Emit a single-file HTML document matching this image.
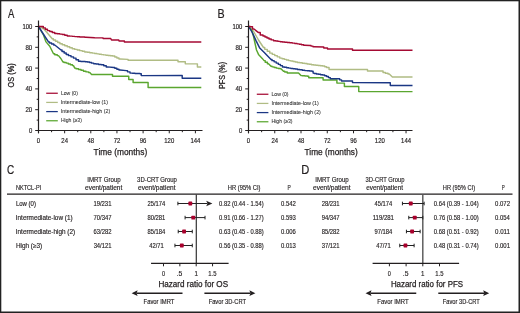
<!DOCTYPE html>
<html><head><meta charset="utf-8"><style>
html,body{margin:0;padding:0;background:#fff;}
#w{position:relative;width:520px;height:313px;overflow:hidden;background:#fff;}
svg{position:absolute;left:0;top:0;}
text{font-family:"Liberation Sans",sans-serif;}
</style></head><body><div id="w" style="will-change:transform">
<svg width="520" height="313" viewBox="0 0 520 313">
<rect x="0" y="0" width="520" height="313" fill="#fff"/>
<text x="7.98" y="17.80" font-size="12" text-anchor="start" textLength="6.34" lengthAdjust="spacingAndGlyphs" fill="#231f20" stroke="#231f20" stroke-width="0.2">A</text>
<polyline points="38.50,26.50 39.75,26.50 39.75,27.50 42.25,27.50 42.25,28.50 43.50,28.50 52.25,38.75 53.34,38.75 53.34,40.00 55.53,40.00 55.53,41.25 57.72,41.25 57.72,42.50 59.91,42.50 59.91,43.75 61.00,43.75 62.25,43.75 62.25,44.75 64.75,44.75 64.75,45.75 67.25,45.75 67.25,46.75 69.75,46.75 69.75,47.75 72.25,47.75 72.25,48.75 73.50,48.75 74.75,48.75 74.75,49.38 77.25,49.38 77.25,50.01 79.75,50.01 79.75,50.64 82.25,50.64 82.25,51.27 84.75,51.27 84.75,51.90 86.00,51.90 87.25,51.90 87.25,52.30 89.75,52.30 89.75,52.70 92.25,52.70 92.25,53.10 93.50,53.10 94.62,53.10 94.62,53.48 96.88,53.48 96.88,53.85 99.12,53.85 99.12,54.23 101.38,54.23 101.38,54.60 102.50,54.60 103.62,54.60 103.62,54.88 105.88,54.88 105.88,55.16 108.12,55.16 108.12,55.44 110.38,55.44 110.38,55.72 112.62,55.72 112.62,56.00 113.75,56.00 114.79,56.00 114.79,57.00 116.88,57.00 116.88,58.00 118.96,58.00 118.96,59.00 120.00,59.00 128.10,59.40 128.10,60.25 178.00,60.30 178.00,61.80 185.30,61.80 185.30,63.85 197.40,63.85 197.40,67.00 201.30,67.00" fill="none" stroke="#b0bc84" stroke-width="1.45" stroke-linejoin="round"/>
<polyline points="38.50,26.50 43.50,35.00 46.00,41.90 49.75,46.25 53.50,53.75 54.75,53.75 54.75,54.67 57.25,54.67 57.25,55.60 58.50,55.60 61.00,58.75 62.90,61.90 63.99,61.90 63.99,62.50 66.16,62.50 66.16,63.10 67.25,63.10 68.29,63.10 68.29,63.93 70.38,63.93 70.38,64.77 72.46,64.77 72.46,65.60 73.50,65.60 74.75,68.10 76.00,68.10 76.00,68.75 78.50,68.75 78.50,69.40 79.75,69.40 81.00,69.40 81.00,70.33 83.50,70.33 83.50,71.25 84.75,71.25 86.00,71.25 86.00,71.88 88.50,71.88 88.50,72.50 89.75,72.50 91.60,74.40 112.50,74.40 112.50,76.25 128.75,76.25 128.75,79.40 133.10,79.40 133.10,82.50 148.10,82.50 148.10,87.50 201.30,87.50" fill="none" stroke="#5aa62f" stroke-width="1.45" stroke-linejoin="round"/>
<polyline points="38.50,26.50 44.75,36.25 48.50,41.90 49.54,41.90 49.54,42.93 51.62,42.93 51.62,43.97 53.71,43.97 53.71,45.00 54.75,45.00 61.00,50.00 62.04,50.00 62.04,51.47 64.12,51.47 64.12,52.93 66.21,52.93 66.21,54.40 67.25,54.40 68.50,54.40 68.50,55.63 71.00,55.63 71.00,56.87 73.50,56.87 73.50,58.10 74.75,58.10 76.00,58.10 76.00,59.67 78.50,59.67 78.50,61.25 79.75,61.25 80.84,61.25 80.84,61.41 83.03,61.41 83.03,61.58 85.22,61.58 85.22,61.74 87.41,61.74 87.41,61.90 88.50,61.90 89.54,61.90 89.54,62.52 91.62,62.52 91.62,63.13 93.71,63.13 93.71,63.75 94.75,63.75 96.04,63.75 96.04,64.08 98.62,64.08 98.62,64.42 101.21,64.42 101.21,64.75 102.50,64.75 103.75,64.75 103.75,65.83 106.25,65.83 106.25,66.90 107.50,66.90 113.75,67.50 114.79,67.50 114.79,68.33 116.88,68.33 116.88,69.17 118.96,69.17 118.96,70.00 120.00,70.00 126.25,70.60 127.50,70.60 127.50,71.85 130.00,71.85 130.00,73.10 131.25,73.10 132.50,73.10 132.50,73.26 135.00,73.26 135.00,73.42 137.50,73.42 137.50,73.59 140.00,73.59 140.00,73.75 141.25,73.75 141.25,75.60 182.20,75.50 182.20,78.20 201.30,78.20" fill="none" stroke="#1b3784" stroke-width="1.45" stroke-linejoin="round"/>
<polyline points="38.50,26.50 42.25,26.50 43.29,26.50 43.29,27.87 45.38,27.87 45.38,29.23 47.46,29.23 47.46,30.60 48.50,30.60 49.75,30.60 49.75,31.57 52.25,31.57 52.25,32.53 54.75,32.53 54.75,33.50 56.00,33.50 57.25,33.50 57.25,33.80 59.75,33.80 59.75,34.10 62.25,34.10 62.25,34.40 63.50,34.40 64.75,34.40 64.75,35.15 67.25,35.15 67.25,35.90 68.50,35.90 69.75,35.90 69.75,36.13 72.25,36.13 72.25,36.37 74.75,36.37 74.75,36.60 76.00,36.60 77.25,36.60 77.25,36.75 79.75,36.75 79.75,36.90 82.25,36.90 82.25,37.05 84.75,37.05 84.75,37.20 86.00,37.20 94.75,37.80 103.10,37.90 103.10,38.50 110.60,38.40 111.50,40.00 118.75,40.00 119.00,40.90 124.40,40.90 124.40,41.90 201.30,41.90" fill="none" stroke="#a50a33" stroke-width="1.45" stroke-linejoin="round"/>
<line x1="38.50" y1="20.50" x2="38.50" y2="133.20" stroke="#231f20" stroke-width="1.2"/>
<line x1="35.20" y1="130.50" x2="202.50" y2="130.50" stroke="#231f20" stroke-width="1.2"/>
<text x="32.20" y="132.95" font-size="6.9" text-anchor="end" textLength="3.30" lengthAdjust="spacingAndGlyphs" fill="#231f20" stroke="#231f20" stroke-width="0.18">0</text>
<line x1="36.70" y1="120.10" x2="38.50" y2="120.10" stroke="#231f20" stroke-width="1.0"/>
<line x1="35.20" y1="109.70" x2="38.50" y2="109.70" stroke="#231f20" stroke-width="1.0"/>
<text x="32.20" y="112.15" font-size="6.9" text-anchor="end" textLength="6.80" lengthAdjust="spacingAndGlyphs" fill="#231f20" stroke="#231f20" stroke-width="0.18">20</text>
<line x1="36.70" y1="99.30" x2="38.50" y2="99.30" stroke="#231f20" stroke-width="1.0"/>
<line x1="35.20" y1="88.90" x2="38.50" y2="88.90" stroke="#231f20" stroke-width="1.0"/>
<text x="32.20" y="91.35" font-size="6.9" text-anchor="end" textLength="6.80" lengthAdjust="spacingAndGlyphs" fill="#231f20" stroke="#231f20" stroke-width="0.18">40</text>
<line x1="36.70" y1="78.50" x2="38.50" y2="78.50" stroke="#231f20" stroke-width="1.0"/>
<line x1="35.20" y1="68.10" x2="38.50" y2="68.10" stroke="#231f20" stroke-width="1.0"/>
<text x="32.20" y="70.55" font-size="6.9" text-anchor="end" textLength="6.80" lengthAdjust="spacingAndGlyphs" fill="#231f20" stroke="#231f20" stroke-width="0.18">60</text>
<line x1="36.70" y1="57.70" x2="38.50" y2="57.70" stroke="#231f20" stroke-width="1.0"/>
<line x1="35.20" y1="47.30" x2="38.50" y2="47.30" stroke="#231f20" stroke-width="1.0"/>
<text x="32.20" y="49.75" font-size="6.9" text-anchor="end" textLength="6.80" lengthAdjust="spacingAndGlyphs" fill="#231f20" stroke="#231f20" stroke-width="0.18">80</text>
<line x1="36.70" y1="36.90" x2="38.50" y2="36.90" stroke="#231f20" stroke-width="1.0"/>
<line x1="35.20" y1="26.50" x2="38.50" y2="26.50" stroke="#231f20" stroke-width="1.0"/>
<text x="32.20" y="28.95" font-size="6.9" text-anchor="end" textLength="9.80" lengthAdjust="spacingAndGlyphs" fill="#231f20" stroke="#231f20" stroke-width="0.18">100</text>
<line x1="38.50" y1="130.50" x2="38.50" y2="133.30" stroke="#231f20" stroke-width="1.0"/>
<text x="38.50" y="142.60" font-size="6.9" text-anchor="middle" textLength="3.30" lengthAdjust="spacingAndGlyphs" fill="#231f20" stroke="#231f20" stroke-width="0.18">0</text>
<line x1="51.58" y1="130.50" x2="51.58" y2="132.20" stroke="#231f20" stroke-width="1.0"/>
<line x1="64.65" y1="130.50" x2="64.65" y2="133.30" stroke="#231f20" stroke-width="1.0"/>
<text x="64.65" y="142.60" font-size="6.9" text-anchor="middle" textLength="6.60" lengthAdjust="spacingAndGlyphs" fill="#231f20" stroke="#231f20" stroke-width="0.18">24</text>
<line x1="77.73" y1="130.50" x2="77.73" y2="132.20" stroke="#231f20" stroke-width="1.0"/>
<line x1="90.80" y1="130.50" x2="90.80" y2="133.30" stroke="#231f20" stroke-width="1.0"/>
<text x="90.80" y="142.60" font-size="6.9" text-anchor="middle" textLength="6.60" lengthAdjust="spacingAndGlyphs" fill="#231f20" stroke="#231f20" stroke-width="0.18">48</text>
<line x1="103.88" y1="130.50" x2="103.88" y2="132.20" stroke="#231f20" stroke-width="1.0"/>
<line x1="116.95" y1="130.50" x2="116.95" y2="133.30" stroke="#231f20" stroke-width="1.0"/>
<text x="116.95" y="142.60" font-size="6.9" text-anchor="middle" textLength="6.60" lengthAdjust="spacingAndGlyphs" fill="#231f20" stroke="#231f20" stroke-width="0.18">72</text>
<line x1="130.03" y1="130.50" x2="130.03" y2="132.20" stroke="#231f20" stroke-width="1.0"/>
<line x1="143.10" y1="130.50" x2="143.10" y2="133.30" stroke="#231f20" stroke-width="1.0"/>
<text x="143.10" y="142.60" font-size="6.9" text-anchor="middle" textLength="6.60" lengthAdjust="spacingAndGlyphs" fill="#231f20" stroke="#231f20" stroke-width="0.18">96</text>
<line x1="156.18" y1="130.50" x2="156.18" y2="132.20" stroke="#231f20" stroke-width="1.0"/>
<line x1="169.25" y1="130.50" x2="169.25" y2="133.30" stroke="#231f20" stroke-width="1.0"/>
<text x="169.25" y="142.60" font-size="6.9" text-anchor="middle" textLength="9.90" lengthAdjust="spacingAndGlyphs" fill="#231f20" stroke="#231f20" stroke-width="0.18">120</text>
<line x1="182.33" y1="130.50" x2="182.33" y2="132.20" stroke="#231f20" stroke-width="1.0"/>
<line x1="195.40" y1="130.50" x2="195.40" y2="133.30" stroke="#231f20" stroke-width="1.0"/>
<text x="195.40" y="142.60" font-size="6.9" text-anchor="middle" textLength="9.90" lengthAdjust="spacingAndGlyphs" fill="#231f20" stroke="#231f20" stroke-width="0.18">144</text>
<text x="93.61" y="154.60" font-size="8.6" text-anchor="start" textLength="53.60" lengthAdjust="spacingAndGlyphs" fill="#231f20" stroke="#231f20" stroke-width="0.25">Time (months)</text>
<text x="0" y="0" font-size="8.2" text-anchor="middle" textLength="24" lengthAdjust="spacingAndGlyphs" fill="#231f20" stroke="#231f20" stroke-width="0.3" transform="translate(14.2,75.4) rotate(-90)">OS (%)</text>
<line x1="46.20" y1="93.25" x2="57.80" y2="93.25" stroke="#a50a33" stroke-width="1.25"/>
<text x="60.88" y="94.90" font-size="5.2" text-anchor="start" textLength="17.04" lengthAdjust="spacingAndGlyphs" fill="#333" stroke="#333" stroke-width="0.08">Low (0)</text>
<line x1="46.20" y1="102.42" x2="57.80" y2="102.42" stroke="#b0bc84" stroke-width="1.25"/>
<text x="60.81" y="104.07" font-size="5.2" text-anchor="start" textLength="47.32" lengthAdjust="spacingAndGlyphs" fill="#333" stroke="#333" stroke-width="0.08">Intermediate-low (1)</text>
<line x1="46.20" y1="111.59" x2="57.80" y2="111.59" stroke="#1b3784" stroke-width="1.25"/>
<text x="60.81" y="113.24" font-size="5.2" text-anchor="start" textLength="49.47" lengthAdjust="spacingAndGlyphs" fill="#333" stroke="#333" stroke-width="0.08">Intermediate-high (2)</text>
<line x1="46.20" y1="120.76" x2="57.80" y2="120.76" stroke="#5aa62f" stroke-width="1.25"/>
<text x="60.88" y="122.41" font-size="5.2" text-anchor="start" textLength="21.04" lengthAdjust="spacingAndGlyphs" fill="#333" stroke="#333" stroke-width="0.08">High (≥3)</text>
<text x="217.52" y="17.80" font-size="12" text-anchor="start" textLength="7.14" lengthAdjust="spacingAndGlyphs" fill="#231f20" stroke="#231f20" stroke-width="0.2">B</text>
<polyline points="248.50,26.25 253.50,31.25 258.50,40.00 263.50,47.50 264.75,47.50 264.75,49.37 267.25,49.37 267.25,51.23 269.75,51.23 269.75,53.10 271.00,53.10 272.25,53.10 272.25,54.35 274.75,54.35 274.75,55.60 277.25,55.60 277.25,56.85 279.75,56.85 279.75,58.10 281.00,58.10 282.09,58.10 282.09,58.73 284.28,58.73 284.28,59.35 286.47,59.35 286.47,59.98 288.66,59.98 288.66,60.60 289.75,60.60 290.84,60.60 290.84,61.08 293.03,61.08 293.03,61.55 295.22,61.55 295.22,62.02 297.41,62.02 297.41,62.50 298.50,62.50 299.75,62.50 299.75,62.83 302.25,62.83 302.25,63.17 304.75,63.17 304.75,63.50 306.00,63.50 307.08,63.50 307.08,63.92 309.25,63.92 309.25,64.33 311.42,64.33 311.42,64.75 312.50,64.75 313.62,64.75 313.62,65.00 315.88,65.00 315.88,65.25 318.12,65.25 318.12,65.50 320.38,65.50 320.38,65.75 322.62,65.75 322.62,66.00 323.75,66.00 324.69,66.00 324.69,66.75 326.56,66.75 326.56,67.50 327.50,67.50 329.05,67.50 329.05,69.40 330.60,69.40 367.50,69.50 367.50,70.90 382.00,70.90 383.05,70.90 383.05,72.40 384.10,72.40 385.40,72.40 385.40,73.20 388.00,73.20 388.00,74.00 389.30,74.00 392.40,77.00 412.50,77.00" fill="none" stroke="#b0bc84" stroke-width="1.45" stroke-linejoin="round"/>
<polyline points="248.50,26.25 251.60,30.00 253.50,36.25 255.40,45.00 256.50,50.00 258.50,54.40 262.25,58.40 264.10,60.60 265.20,60.60 265.20,62.17 267.40,62.17 267.40,63.75 268.50,63.75 271.00,66.25 272.04,66.25 272.04,66.87 274.12,66.87 274.12,67.48 276.21,67.48 276.21,68.10 277.25,68.10 278.19,68.10 278.19,68.42 280.06,68.42 280.06,68.75 281.00,68.75 283.50,71.25 284.75,71.25 284.75,72.08 287.25,72.08 287.25,72.90 288.50,72.90 298.50,72.90 301.00,75.60 302.29,75.60 302.29,75.82 304.88,75.82 304.88,76.03 307.46,76.03 307.46,76.25 308.75,76.25 308.75,77.75 323.10,77.75 323.10,80.00 336.90,80.00 336.90,83.10 344.40,83.10 344.40,86.50 358.75,86.50 358.75,91.60 412.50,91.60" fill="none" stroke="#5aa62f" stroke-width="1.45" stroke-linejoin="round"/>
<polyline points="248.50,26.25 252.25,32.50 256.00,40.60 259.75,48.10 264.75,53.10 271.00,59.40 272.04,59.40 272.04,60.63 274.12,60.63 274.12,61.87 276.21,61.87 276.21,63.10 277.25,63.10 278.29,63.10 278.29,64.37 280.38,64.37 280.38,65.63 282.46,65.63 282.46,66.90 283.50,66.90 284.54,66.90 284.54,67.30 286.62,67.30 286.62,67.70 288.71,67.70 288.71,68.10 289.75,68.10 290.84,68.10 290.84,68.42 293.03,68.42 293.03,68.75 295.22,68.75 295.22,69.08 297.41,69.08 297.41,69.40 298.50,69.40 299.75,69.40 299.75,69.80 302.25,69.80 302.25,70.20 304.75,70.20 304.75,70.60 306.00,70.60 307.18,70.60 307.18,70.82 309.55,70.82 309.55,71.03 311.92,71.03 311.92,71.25 313.10,71.25 313.10,73.10 314.20,73.10 314.20,73.55 316.40,73.55 316.40,74.00 317.50,74.00 318.54,74.00 318.54,74.33 320.62,74.33 320.62,74.67 322.71,74.67 322.71,75.00 323.75,75.00 324.69,75.00 324.69,75.75 326.56,75.75 326.56,76.50 327.50,76.50 328.44,76.50 328.44,77.62 330.31,77.62 330.31,78.75 331.25,78.75 338.75,78.75 339.69,78.75 339.69,79.88 341.56,79.88 341.56,81.00 342.50,81.00 352.50,81.00 352.50,82.50 390.30,82.80 390.30,85.50 412.50,85.50" fill="none" stroke="#1b3784" stroke-width="1.45" stroke-linejoin="round"/>
<polyline points="248.50,26.25 251.00,26.80 252.50,26.80 252.50,29.00 254.00,29.00 258.50,32.60 260.25,32.60 260.25,35.00 262.00,35.00 263.00,35.00 263.00,36.00 265.00,36.00 265.00,37.00 266.00,37.00 267.00,37.00 267.00,38.00 269.00,38.00 269.00,39.00 270.00,39.00 271.19,39.00 271.19,39.88 273.56,39.88 273.56,40.75 274.75,40.75 275.84,40.75 275.84,41.06 278.03,41.06 278.03,41.38 280.22,41.38 280.22,41.69 282.41,41.69 282.41,42.00 283.50,42.00 284.75,42.00 284.75,42.28 287.25,42.28 287.25,42.56 289.75,42.56 289.75,42.84 292.25,42.84 292.25,43.12 294.75,43.12 294.75,43.40 296.00,43.40 297.09,43.40 297.09,43.85 299.28,43.85 299.28,44.30 301.47,44.30 301.47,44.75 303.66,44.75 303.66,45.20 304.75,45.20 310.00,45.50 311.00,45.50 311.00,46.10 313.00,46.10 313.00,46.70 314.00,46.70 323.75,47.00 323.75,47.90 327.50,47.90 327.50,48.90 352.50,48.90 352.50,50.20 412.50,50.20" fill="none" stroke="#a50a33" stroke-width="1.45" stroke-linejoin="round"/>
<line x1="248.50" y1="20.50" x2="248.50" y2="133.20" stroke="#231f20" stroke-width="1.2"/>
<line x1="245.20" y1="130.50" x2="412.50" y2="130.50" stroke="#231f20" stroke-width="1.2"/>
<text x="242.20" y="132.95" font-size="6.9" text-anchor="end" textLength="3.30" lengthAdjust="spacingAndGlyphs" fill="#231f20" stroke="#231f20" stroke-width="0.18">0</text>
<line x1="246.70" y1="120.10" x2="248.50" y2="120.10" stroke="#231f20" stroke-width="1.0"/>
<line x1="245.20" y1="109.70" x2="248.50" y2="109.70" stroke="#231f20" stroke-width="1.0"/>
<text x="242.20" y="112.15" font-size="6.9" text-anchor="end" textLength="6.80" lengthAdjust="spacingAndGlyphs" fill="#231f20" stroke="#231f20" stroke-width="0.18">20</text>
<line x1="246.70" y1="99.30" x2="248.50" y2="99.30" stroke="#231f20" stroke-width="1.0"/>
<line x1="245.20" y1="88.90" x2="248.50" y2="88.90" stroke="#231f20" stroke-width="1.0"/>
<text x="242.20" y="91.35" font-size="6.9" text-anchor="end" textLength="6.80" lengthAdjust="spacingAndGlyphs" fill="#231f20" stroke="#231f20" stroke-width="0.18">40</text>
<line x1="246.70" y1="78.50" x2="248.50" y2="78.50" stroke="#231f20" stroke-width="1.0"/>
<line x1="245.20" y1="68.10" x2="248.50" y2="68.10" stroke="#231f20" stroke-width="1.0"/>
<text x="242.20" y="70.55" font-size="6.9" text-anchor="end" textLength="6.80" lengthAdjust="spacingAndGlyphs" fill="#231f20" stroke="#231f20" stroke-width="0.18">60</text>
<line x1="246.70" y1="57.70" x2="248.50" y2="57.70" stroke="#231f20" stroke-width="1.0"/>
<line x1="245.20" y1="47.30" x2="248.50" y2="47.30" stroke="#231f20" stroke-width="1.0"/>
<text x="242.20" y="49.75" font-size="6.9" text-anchor="end" textLength="6.80" lengthAdjust="spacingAndGlyphs" fill="#231f20" stroke="#231f20" stroke-width="0.18">80</text>
<line x1="246.70" y1="36.90" x2="248.50" y2="36.90" stroke="#231f20" stroke-width="1.0"/>
<line x1="245.20" y1="26.50" x2="248.50" y2="26.50" stroke="#231f20" stroke-width="1.0"/>
<text x="242.20" y="28.95" font-size="6.9" text-anchor="end" textLength="9.80" lengthAdjust="spacingAndGlyphs" fill="#231f20" stroke="#231f20" stroke-width="0.18">100</text>
<line x1="248.50" y1="130.50" x2="248.50" y2="133.30" stroke="#231f20" stroke-width="1.0"/>
<text x="248.50" y="142.60" font-size="6.9" text-anchor="middle" textLength="3.30" lengthAdjust="spacingAndGlyphs" fill="#231f20" stroke="#231f20" stroke-width="0.18">0</text>
<line x1="261.63" y1="130.50" x2="261.63" y2="132.20" stroke="#231f20" stroke-width="1.0"/>
<line x1="274.76" y1="130.50" x2="274.76" y2="133.30" stroke="#231f20" stroke-width="1.0"/>
<text x="274.76" y="142.60" font-size="6.9" text-anchor="middle" textLength="6.60" lengthAdjust="spacingAndGlyphs" fill="#231f20" stroke="#231f20" stroke-width="0.18">24</text>
<line x1="287.88" y1="130.50" x2="287.88" y2="132.20" stroke="#231f20" stroke-width="1.0"/>
<line x1="301.01" y1="130.50" x2="301.01" y2="133.30" stroke="#231f20" stroke-width="1.0"/>
<text x="301.01" y="142.60" font-size="6.9" text-anchor="middle" textLength="6.60" lengthAdjust="spacingAndGlyphs" fill="#231f20" stroke="#231f20" stroke-width="0.18">48</text>
<line x1="314.14" y1="130.50" x2="314.14" y2="132.20" stroke="#231f20" stroke-width="1.0"/>
<line x1="327.27" y1="130.50" x2="327.27" y2="133.30" stroke="#231f20" stroke-width="1.0"/>
<text x="327.27" y="142.60" font-size="6.9" text-anchor="middle" textLength="6.60" lengthAdjust="spacingAndGlyphs" fill="#231f20" stroke="#231f20" stroke-width="0.18">72</text>
<line x1="340.40" y1="130.50" x2="340.40" y2="132.20" stroke="#231f20" stroke-width="1.0"/>
<line x1="353.52" y1="130.50" x2="353.52" y2="133.30" stroke="#231f20" stroke-width="1.0"/>
<text x="353.52" y="142.60" font-size="6.9" text-anchor="middle" textLength="6.60" lengthAdjust="spacingAndGlyphs" fill="#231f20" stroke="#231f20" stroke-width="0.18">96</text>
<line x1="366.65" y1="130.50" x2="366.65" y2="132.20" stroke="#231f20" stroke-width="1.0"/>
<line x1="379.78" y1="130.50" x2="379.78" y2="133.30" stroke="#231f20" stroke-width="1.0"/>
<text x="379.78" y="142.60" font-size="6.9" text-anchor="middle" textLength="9.90" lengthAdjust="spacingAndGlyphs" fill="#231f20" stroke="#231f20" stroke-width="0.18">120</text>
<line x1="392.91" y1="130.50" x2="392.91" y2="132.20" stroke="#231f20" stroke-width="1.0"/>
<line x1="406.04" y1="130.50" x2="406.04" y2="133.30" stroke="#231f20" stroke-width="1.0"/>
<text x="406.04" y="142.60" font-size="6.9" text-anchor="middle" textLength="9.90" lengthAdjust="spacingAndGlyphs" fill="#231f20" stroke="#231f20" stroke-width="0.18">144</text>
<text x="304.61" y="154.60" font-size="8.6" text-anchor="start" textLength="53.10" lengthAdjust="spacingAndGlyphs" fill="#231f20" stroke="#231f20" stroke-width="0.25">Time (months)</text>
<text x="0" y="0" font-size="8.2" text-anchor="middle" textLength="27" lengthAdjust="spacingAndGlyphs" fill="#231f20" stroke="#231f20" stroke-width="0.3" transform="translate(224.8,75.4) rotate(-90)">PFS (%)</text>
<line x1="256.80" y1="94.25" x2="268.40" y2="94.25" stroke="#a50a33" stroke-width="1.25"/>
<text x="271.48" y="95.90" font-size="5.2" text-anchor="start" textLength="17.04" lengthAdjust="spacingAndGlyphs" fill="#333" stroke="#333" stroke-width="0.08">Low (0)</text>
<line x1="256.80" y1="103.42" x2="268.40" y2="103.42" stroke="#b0bc84" stroke-width="1.25"/>
<text x="271.41" y="105.07" font-size="5.2" text-anchor="start" textLength="47.32" lengthAdjust="spacingAndGlyphs" fill="#333" stroke="#333" stroke-width="0.08">Intermediate-low (1)</text>
<line x1="256.80" y1="112.59" x2="268.40" y2="112.59" stroke="#1b3784" stroke-width="1.25"/>
<text x="271.41" y="114.24" font-size="5.2" text-anchor="start" textLength="49.47" lengthAdjust="spacingAndGlyphs" fill="#333" stroke="#333" stroke-width="0.08">Intermediate-high (2)</text>
<line x1="256.80" y1="121.76" x2="268.40" y2="121.76" stroke="#5aa62f" stroke-width="1.25"/>
<text x="271.48" y="123.41" font-size="5.2" text-anchor="start" textLength="21.04" lengthAdjust="spacingAndGlyphs" fill="#333" stroke="#333" stroke-width="0.08">High (≥3)</text>
<text x="7.09" y="173.70" font-size="12" text-anchor="start" textLength="7.18" lengthAdjust="spacingAndGlyphs" fill="#231f20" stroke="#231f20" stroke-width="0.2">C</text>
<text x="301.29" y="173.70" font-size="12" text-anchor="start" textLength="8.05" lengthAdjust="spacingAndGlyphs" fill="#231f20" stroke="#231f20" stroke-width="0.2">D</text>
<line x1="7.00" y1="194.20" x2="512.50" y2="194.20" stroke="#231f20" stroke-width="1.25"/>
<text x="15.94" y="189.70" font-size="6.4" text-anchor="start" textLength="25.37" lengthAdjust="spacingAndGlyphs" fill="#231f20" stroke="#231f20" stroke-width="0.15">NKTCL-PI</text>
<text x="87.24" y="182.00" font-size="6.4" text-anchor="start" textLength="33.47" lengthAdjust="spacingAndGlyphs" fill="#231f20" stroke="#231f20" stroke-width="0.15">IMRT Group</text>
<text x="85.02" y="189.70" font-size="6.4" text-anchor="start" textLength="37.22" lengthAdjust="spacingAndGlyphs" fill="#231f20" stroke="#231f20" stroke-width="0.15">event/patient</text>
<text x="137.07" y="182.00" font-size="6.4" text-anchor="start" textLength="39.87" lengthAdjust="spacingAndGlyphs" fill="#231f20" stroke="#231f20" stroke-width="0.15">3D-CRT Group</text>
<text x="138.02" y="189.70" font-size="6.4" text-anchor="start" textLength="37.48" lengthAdjust="spacingAndGlyphs" fill="#231f20" stroke="#231f20" stroke-width="0.15">event/patient</text>
<text x="227.83" y="189.70" font-size="6.4" text-anchor="start" textLength="32.73" lengthAdjust="spacingAndGlyphs" fill="#231f20" stroke="#231f20" stroke-width="0.15">HR (95% CI)</text>
<text x="287.40" y="189.70" font-size="6.4" text-anchor="start" textLength="3.26" lengthAdjust="spacingAndGlyphs" fill="#231f20" stroke="#231f20" stroke-width="0.15">P</text>
<text x="315.24" y="182.00" font-size="6.4" text-anchor="start" textLength="33.47" lengthAdjust="spacingAndGlyphs" fill="#231f20" stroke="#231f20" stroke-width="0.15">IMRT Group</text>
<text x="313.02" y="189.70" font-size="6.4" text-anchor="start" textLength="37.48" lengthAdjust="spacingAndGlyphs" fill="#231f20" stroke="#231f20" stroke-width="0.15">event/patient</text>
<text x="365.58" y="182.00" font-size="6.4" text-anchor="start" textLength="38.86" lengthAdjust="spacingAndGlyphs" fill="#231f20" stroke="#231f20" stroke-width="0.15">3D-CRT Group</text>
<text x="366.28" y="189.70" font-size="6.4" text-anchor="start" textLength="36.72" lengthAdjust="spacingAndGlyphs" fill="#231f20" stroke="#231f20" stroke-width="0.15">event/patient</text>
<text x="442.83" y="189.70" font-size="6.4" text-anchor="start" textLength="32.22" lengthAdjust="spacingAndGlyphs" fill="#231f20" stroke="#231f20" stroke-width="0.15">HR (95% CI)</text>
<text x="501.69" y="189.70" font-size="6.4" text-anchor="start" textLength="2.95" lengthAdjust="spacingAndGlyphs" fill="#231f20" stroke="#231f20" stroke-width="0.15">P</text>
<text x="15.91" y="205.95" font-size="6.4" text-anchor="start" textLength="20.07" lengthAdjust="spacingAndGlyphs" fill="#231f20" stroke="#231f20" stroke-width="0.15">Low (0)</text>
<text x="93.40" y="205.95" font-size="6.4" text-anchor="start" textLength="18.04" lengthAdjust="spacingAndGlyphs" fill="#231f20" stroke="#231f20" stroke-width="0.15">19/231</text>
<text x="147.46" y="205.95" font-size="6.4" text-anchor="start" textLength="17.76" lengthAdjust="spacingAndGlyphs" fill="#231f20" stroke="#231f20" stroke-width="0.15">25/174</text>
<text x="321.66" y="205.95" font-size="6.4" text-anchor="start" textLength="17.88" lengthAdjust="spacingAndGlyphs" fill="#231f20" stroke="#231f20" stroke-width="0.15">28/231</text>
<text x="374.62" y="205.95" font-size="6.4" text-anchor="start" textLength="17.60" lengthAdjust="spacingAndGlyphs" fill="#231f20" stroke="#231f20" stroke-width="0.15">45/174</text>
<text x="219.07" y="205.95" font-size="6.4" text-anchor="start" textLength="44.59" lengthAdjust="spacingAndGlyphs" fill="#231f20" stroke="#231f20" stroke-width="0.15">0.82 (0.44 - 1.54)</text>
<text x="280.97" y="205.95" font-size="6.4" text-anchor="start" textLength="14.83" lengthAdjust="spacingAndGlyphs" fill="#231f20" stroke="#231f20" stroke-width="0.15">0.542</text>
<text x="433.82" y="205.95" font-size="6.4" text-anchor="start" textLength="44.99" lengthAdjust="spacingAndGlyphs" fill="#231f20" stroke="#231f20" stroke-width="0.15">0.64 (0.39 - 1.04)</text>
<text x="495.07" y="205.95" font-size="6.4" text-anchor="start" textLength="14.93" lengthAdjust="spacingAndGlyphs" fill="#231f20" stroke="#231f20" stroke-width="0.15">0.072</text>
<text x="15.81" y="220.05" font-size="6.4" text-anchor="start" textLength="56.79" lengthAdjust="spacingAndGlyphs" fill="#231f20" stroke="#231f20" stroke-width="0.15">Intermediate-low (1)</text>
<text x="93.55" y="220.05" font-size="6.4" text-anchor="start" textLength="17.89" lengthAdjust="spacingAndGlyphs" fill="#231f20" stroke="#231f20" stroke-width="0.15">70/347</text>
<text x="147.50" y="220.05" font-size="6.4" text-anchor="start" textLength="17.84" lengthAdjust="spacingAndGlyphs" fill="#231f20" stroke="#231f20" stroke-width="0.15">80/281</text>
<text x="321.68" y="220.05" font-size="6.4" text-anchor="start" textLength="17.87" lengthAdjust="spacingAndGlyphs" fill="#231f20" stroke="#231f20" stroke-width="0.15">94/347</text>
<text x="372.68" y="220.05" font-size="6.4" text-anchor="start" textLength="21.29" lengthAdjust="spacingAndGlyphs" fill="#231f20" stroke="#231f20" stroke-width="0.15">119/281</text>
<text x="219.07" y="220.05" font-size="6.4" text-anchor="start" textLength="44.59" lengthAdjust="spacingAndGlyphs" fill="#231f20" stroke="#231f20" stroke-width="0.15">0.91 (0.66 - 1.27)</text>
<text x="280.97" y="220.05" font-size="6.4" text-anchor="start" textLength="14.79" lengthAdjust="spacingAndGlyphs" fill="#231f20" stroke="#231f20" stroke-width="0.15">0.593</text>
<text x="433.82" y="220.05" font-size="6.4" text-anchor="start" textLength="44.99" lengthAdjust="spacingAndGlyphs" fill="#231f20" stroke="#231f20" stroke-width="0.15">0.76 (0.58 - 1.00)</text>
<text x="495.07" y="220.05" font-size="6.4" text-anchor="start" textLength="14.80" lengthAdjust="spacingAndGlyphs" fill="#231f20" stroke="#231f20" stroke-width="0.15">0.054</text>
<text x="15.81" y="233.95" font-size="6.4" text-anchor="start" textLength="59.29" lengthAdjust="spacingAndGlyphs" fill="#231f20" stroke="#231f20" stroke-width="0.15">Intermediate-high (2)</text>
<text x="93.55" y="233.95" font-size="6.4" text-anchor="start" textLength="17.89" lengthAdjust="spacingAndGlyphs" fill="#231f20" stroke="#231f20" stroke-width="0.15">63/282</text>
<text x="147.50" y="233.95" font-size="6.4" text-anchor="start" textLength="17.72" lengthAdjust="spacingAndGlyphs" fill="#231f20" stroke="#231f20" stroke-width="0.15">85/184</text>
<text x="321.70" y="233.95" font-size="6.4" text-anchor="start" textLength="17.85" lengthAdjust="spacingAndGlyphs" fill="#231f20" stroke="#231f20" stroke-width="0.15">85/282</text>
<text x="374.48" y="233.95" font-size="6.4" text-anchor="start" textLength="17.74" lengthAdjust="spacingAndGlyphs" fill="#231f20" stroke="#231f20" stroke-width="0.15">97/184</text>
<text x="219.07" y="233.95" font-size="6.4" text-anchor="start" textLength="44.59" lengthAdjust="spacingAndGlyphs" fill="#231f20" stroke="#231f20" stroke-width="0.15">0.63 (0.45 - 0.88)</text>
<text x="280.97" y="233.95" font-size="6.4" text-anchor="start" textLength="14.79" lengthAdjust="spacingAndGlyphs" fill="#231f20" stroke="#231f20" stroke-width="0.15">0.006</text>
<text x="433.82" y="233.95" font-size="6.4" text-anchor="start" textLength="44.99" lengthAdjust="spacingAndGlyphs" fill="#231f20" stroke="#231f20" stroke-width="0.15">0.68 (0.51 - 0.92)</text>
<text x="495.07" y="233.95" font-size="6.4" text-anchor="start" textLength="14.92" lengthAdjust="spacingAndGlyphs" fill="#231f20" stroke="#231f20" stroke-width="0.15">0.011</text>
<text x="15.88" y="247.95" font-size="6.4" text-anchor="start" textLength="26.22" lengthAdjust="spacingAndGlyphs" fill="#231f20" stroke="#231f20" stroke-width="0.15">High (≥3)</text>
<text x="93.63" y="247.95" font-size="6.4" text-anchor="start" textLength="17.81" lengthAdjust="spacingAndGlyphs" fill="#231f20" stroke="#231f20" stroke-width="0.15">34/121</text>
<text x="149.24" y="247.95" font-size="6.4" text-anchor="start" textLength="14.46" lengthAdjust="spacingAndGlyphs" fill="#231f20" stroke="#231f20" stroke-width="0.15">42/71</text>
<text x="321.73" y="247.95" font-size="6.4" text-anchor="start" textLength="17.81" lengthAdjust="spacingAndGlyphs" fill="#231f20" stroke="#231f20" stroke-width="0.15">37/121</text>
<text x="376.24" y="247.95" font-size="6.4" text-anchor="start" textLength="14.46" lengthAdjust="spacingAndGlyphs" fill="#231f20" stroke="#231f20" stroke-width="0.15">47/71</text>
<text x="219.07" y="247.95" font-size="6.4" text-anchor="start" textLength="44.59" lengthAdjust="spacingAndGlyphs" fill="#231f20" stroke="#231f20" stroke-width="0.15">0.56 (0.35 - 0.88)</text>
<text x="280.97" y="247.95" font-size="6.4" text-anchor="start" textLength="14.79" lengthAdjust="spacingAndGlyphs" fill="#231f20" stroke="#231f20" stroke-width="0.15">0.013</text>
<text x="433.82" y="247.95" font-size="6.4" text-anchor="start" textLength="44.99" lengthAdjust="spacingAndGlyphs" fill="#231f20" stroke="#231f20" stroke-width="0.15">0.48 (0.31 - 0.74)</text>
<text x="495.07" y="247.95" font-size="6.4" text-anchor="start" textLength="14.92" lengthAdjust="spacingAndGlyphs" fill="#231f20" stroke="#231f20" stroke-width="0.15">0.001</text>
<line x1="196.30" y1="194.50" x2="196.30" y2="263.30" stroke="#333" stroke-width="1.2"/>
<line x1="151.05" y1="263.30" x2="228.60" y2="263.30" stroke="#231f20" stroke-width="1.2"/>
<line x1="163.50" y1="263.30" x2="163.50" y2="266.30" stroke="#231f20" stroke-width="1.0"/>
<text x="161.96" y="275.60" font-size="6.4" text-anchor="start" textLength="3.08" lengthAdjust="spacingAndGlyphs" fill="#231f20" stroke="#231f20" stroke-width="0.15">0</text>
<line x1="179.85" y1="263.30" x2="179.85" y2="266.30" stroke="#231f20" stroke-width="1.0"/>
<text x="176.57" y="275.60" font-size="6.4" text-anchor="start" textLength="5.71" lengthAdjust="spacingAndGlyphs" fill="#231f20" stroke="#231f20" stroke-width="0.15">.5</text>
<line x1="196.20" y1="263.30" x2="196.20" y2="266.30" stroke="#231f20" stroke-width="1.0"/>
<text x="194.41" y="275.60" font-size="6.4" text-anchor="start" textLength="3.42" lengthAdjust="spacingAndGlyphs" fill="#231f20" stroke="#231f20" stroke-width="0.15">1</text>
<line x1="212.55" y1="263.30" x2="212.55" y2="266.30" stroke="#231f20" stroke-width="1.0"/>
<text x="208.32" y="275.60" font-size="6.4" text-anchor="start" textLength="8.25" lengthAdjust="spacingAndGlyphs" fill="#231f20" stroke="#231f20" stroke-width="0.15">1.5</text>
<line x1="177.89" y1="203.50" x2="207.40" y2="203.50" stroke="#222" stroke-width="1.0"/>
<polygon points="206.20,200.70 212.40,203.50 206.20,206.30 207.50,203.50" fill="#231f20"/>
<line x1="177.89" y1="201.70" x2="177.89" y2="205.30" stroke="#222" stroke-width="1.0"/>
<rect x="188.41" y="201.60" width="3.8" height="3.8" rx="0.6" fill="#a8002c"/>
<line x1="185.08" y1="217.60" x2="205.03" y2="217.60" stroke="#222" stroke-width="1.0"/>
<line x1="205.03" y1="215.80" x2="205.03" y2="219.40" stroke="#222" stroke-width="1.0"/>
<line x1="185.08" y1="215.80" x2="185.08" y2="219.40" stroke="#222" stroke-width="1.0"/>
<rect x="191.36" y="215.70" width="3.8" height="3.8" rx="0.6" fill="#a8002c"/>
<line x1="178.22" y1="231.50" x2="192.28" y2="231.50" stroke="#222" stroke-width="1.0"/>
<line x1="192.28" y1="229.70" x2="192.28" y2="233.30" stroke="#222" stroke-width="1.0"/>
<line x1="178.22" y1="229.70" x2="178.22" y2="233.30" stroke="#222" stroke-width="1.0"/>
<rect x="182.20" y="229.60" width="3.8" height="3.8" rx="0.6" fill="#a8002c"/>
<line x1="174.94" y1="245.50" x2="192.28" y2="245.50" stroke="#222" stroke-width="1.0"/>
<line x1="192.28" y1="243.70" x2="192.28" y2="247.30" stroke="#222" stroke-width="1.0"/>
<line x1="174.94" y1="243.70" x2="174.94" y2="247.30" stroke="#222" stroke-width="1.0"/>
<rect x="179.91" y="243.60" width="3.8" height="3.8" rx="0.6" fill="#a8002c"/>
<text x="158.39" y="287.40" font-size="8.3" text-anchor="start" textLength="69.68" lengthAdjust="spacingAndGlyphs" fill="#231f20" stroke="#231f20" stroke-width="0.25">Hazard ratio for OS</text>
<line x1="136.60" y1="293.20" x2="182.50" y2="293.20" stroke="#231f20" stroke-width="1.45"/>
<polygon points="131.60,293.20 137.60,290.30 136.60,293.20 137.60,296.10" fill="#231f20"/>
<line x1="204.40" y1="293.20" x2="250.40" y2="293.20" stroke="#231f20" stroke-width="1.45"/>
<polygon points="255.40,293.20 249.40,290.30 250.40,293.20 249.40,296.10" fill="#231f20"/>
<text x="143.57" y="303.80" font-size="6.4" text-anchor="start" textLength="30.76" lengthAdjust="spacingAndGlyphs" fill="#231f20" stroke="#231f20" stroke-width="0.15">Favor IMRT</text>
<text x="208.63" y="303.80" font-size="6.4" text-anchor="start" textLength="37.40" lengthAdjust="spacingAndGlyphs" fill="#231f20" stroke="#231f20" stroke-width="0.15">Favor 3D-CRT</text>
<line x1="422.80" y1="194.50" x2="422.80" y2="263.30" stroke="#555" stroke-width="1.4"/>
<line x1="372.60" y1="263.30" x2="459.10" y2="263.30" stroke="#231f20" stroke-width="1.2"/>
<line x1="389.40" y1="263.30" x2="389.40" y2="266.30" stroke="#231f20" stroke-width="1.0"/>
<text x="387.86" y="275.60" font-size="6.4" text-anchor="start" textLength="3.08" lengthAdjust="spacingAndGlyphs" fill="#231f20" stroke="#231f20" stroke-width="0.15">0</text>
<line x1="406.10" y1="263.30" x2="406.10" y2="266.30" stroke="#231f20" stroke-width="1.0"/>
<text x="402.82" y="275.60" font-size="6.4" text-anchor="start" textLength="5.71" lengthAdjust="spacingAndGlyphs" fill="#231f20" stroke="#231f20" stroke-width="0.15">.5</text>
<line x1="422.80" y1="263.30" x2="422.80" y2="266.30" stroke="#231f20" stroke-width="1.0"/>
<text x="421.01" y="275.60" font-size="6.4" text-anchor="start" textLength="3.42" lengthAdjust="spacingAndGlyphs" fill="#231f20" stroke="#231f20" stroke-width="0.15">1</text>
<line x1="439.50" y1="263.30" x2="439.50" y2="266.30" stroke="#231f20" stroke-width="1.0"/>
<text x="435.27" y="275.60" font-size="6.4" text-anchor="start" textLength="8.25" lengthAdjust="spacingAndGlyphs" fill="#231f20" stroke="#231f20" stroke-width="0.15">1.5</text>
<line x1="402.43" y1="203.50" x2="424.14" y2="203.50" stroke="#222" stroke-width="1.0"/>
<line x1="424.14" y1="201.70" x2="424.14" y2="205.30" stroke="#222" stroke-width="1.0"/>
<line x1="402.43" y1="201.70" x2="402.43" y2="205.30" stroke="#222" stroke-width="1.0"/>
<rect x="408.88" y="201.60" width="3.8" height="3.8" rx="0.6" fill="#a8002c"/>
<line x1="408.77" y1="217.60" x2="422.80" y2="217.60" stroke="#222" stroke-width="1.0"/>
<line x1="422.80" y1="215.80" x2="422.80" y2="219.40" stroke="#222" stroke-width="1.0"/>
<line x1="408.77" y1="215.80" x2="408.77" y2="219.40" stroke="#222" stroke-width="1.0"/>
<rect x="412.88" y="215.70" width="3.8" height="3.8" rx="0.6" fill="#a8002c"/>
<line x1="406.43" y1="231.50" x2="420.13" y2="231.50" stroke="#222" stroke-width="1.0"/>
<line x1="420.13" y1="229.70" x2="420.13" y2="233.30" stroke="#222" stroke-width="1.0"/>
<line x1="406.43" y1="229.70" x2="406.43" y2="233.30" stroke="#222" stroke-width="1.0"/>
<rect x="410.21" y="229.60" width="3.8" height="3.8" rx="0.6" fill="#a8002c"/>
<line x1="399.75" y1="245.50" x2="414.12" y2="245.50" stroke="#222" stroke-width="1.0"/>
<line x1="414.12" y1="243.70" x2="414.12" y2="247.30" stroke="#222" stroke-width="1.0"/>
<line x1="399.75" y1="243.70" x2="399.75" y2="247.30" stroke="#222" stroke-width="1.0"/>
<rect x="403.53" y="243.60" width="3.8" height="3.8" rx="0.6" fill="#a8002c"/>
<text x="390.90" y="287.40" font-size="8.3" text-anchor="start" textLength="72.16" lengthAdjust="spacingAndGlyphs" fill="#231f20" stroke="#231f20" stroke-width="0.25">Hazard ratio for PFS</text>
<line x1="370.50" y1="293.20" x2="416.25" y2="293.20" stroke="#231f20" stroke-width="1.45"/>
<polygon points="365.50,293.20 371.50,290.30 370.50,293.20 371.50,296.10" fill="#231f20"/>
<line x1="438.30" y1="293.20" x2="484.20" y2="293.20" stroke="#231f20" stroke-width="1.45"/>
<polygon points="489.20,293.20 483.20,290.30 484.20,293.20 483.20,296.10" fill="#231f20"/>
<text x="377.31" y="303.80" font-size="6.4" text-anchor="start" textLength="31.27" lengthAdjust="spacingAndGlyphs" fill="#231f20" stroke="#231f20" stroke-width="0.15">Favor IMRT</text>
<text x="442.83" y="303.80" font-size="6.4" text-anchor="start" textLength="37.00" lengthAdjust="spacingAndGlyphs" fill="#231f20" stroke="#231f20" stroke-width="0.15">Favor 3D-CRT</text>
<rect x="0" y="0" width="520" height="1.3" fill="#222"/><rect x="0" y="0" width="1.3" height="313" fill="#222"/><rect x="0" y="311.5" width="520" height="1.5" fill="#222"/><rect x="518.5" y="0" width="1.5" height="313" fill="#222"/>
</svg></div></body></html>
